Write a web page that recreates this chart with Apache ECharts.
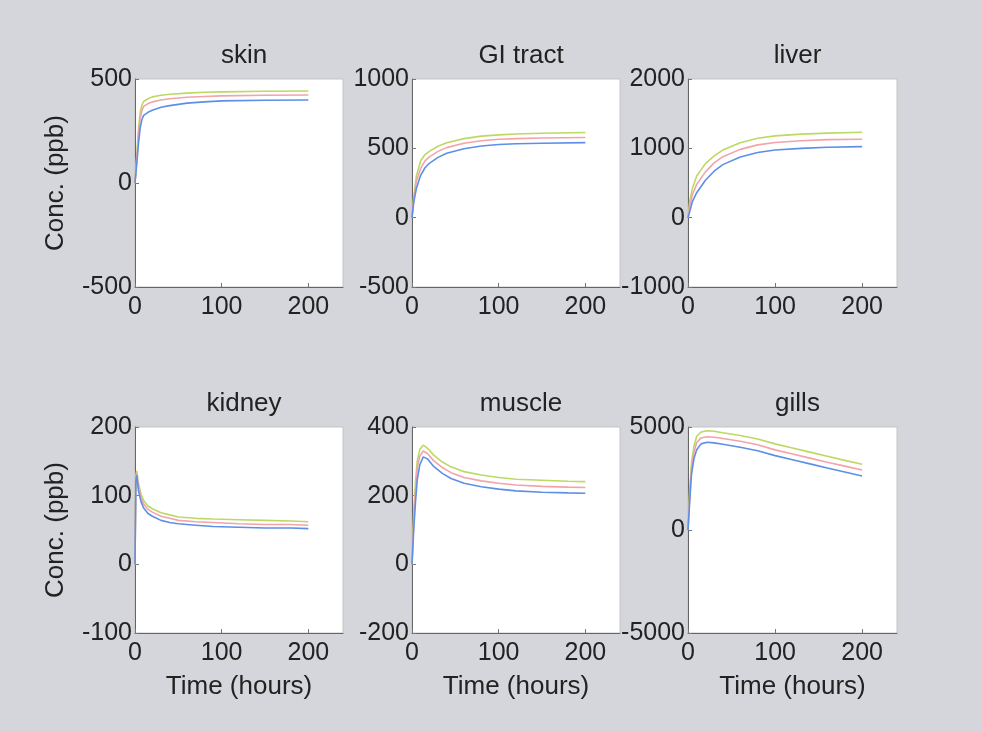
<!DOCTYPE html>
<html>
<head>
<meta charset="utf-8">
<script src="https://cdn.jsdelivr.net/npm/echarts@6/dist/echarts.min.js"></script>
<style>
html,body{margin:0;padding:0;background:#d5d6dc;}
#c{width:982px;height:731px;}
</style>
</head>
<body>
<div id="c"></div>
<script>
// ---- Data ----
const panelTitles = ['skin', 'GI tract', 'liver', 'kidney', 'muscle', 'gills'];
const seriesNames = ['high', 'mid', 'low'];

const skinT     = [0, 2, 4, 6, 8, 10, 15, 20, 30, 40, 60, 80, 100, 150, 200];
const skinGreen = [0, 130, 260, 340, 375, 392, 405, 414, 422, 427, 432, 436, 438, 441, 442];
const skinRed   = [0, 110, 230, 310, 350, 368, 382, 390, 399, 405, 412, 416, 419, 422, 423];
const skinBlue  = [0, 90, 190, 265, 305, 325, 340, 350, 364, 372, 384, 390, 395, 398, 399];

const giT     = [0, 2, 5, 10, 15, 20, 30, 40, 60, 80, 100, 120, 150, 200];
const giGreen = [0, 150, 300, 410, 455, 478, 515, 540, 570, 588, 597, 603, 609, 614];
const giRed   = [0, 130, 260, 355, 410, 438, 478, 505, 537, 555, 565, 570, 574, 578];
const giBlue  = [0, 110, 210, 305, 360, 392, 435, 465, 497, 517, 528, 533, 537, 541];

const liverT     = [0, 2, 5, 10, 20, 30, 40, 60, 80, 100, 130, 160, 200];
const liverGreen = [0, 240, 420, 600, 780, 890, 975, 1080, 1145, 1180, 1205, 1220, 1232];
const liverRed   = [0, 170, 330, 480, 660, 790, 880, 985, 1050, 1085, 1110, 1125, 1130];
const liverBlue  = [0, 90, 230, 360, 540, 670, 765, 875, 940, 975, 1000, 1015, 1025];

const kidneyT     = [0, 1, 2, 4, 7, 10, 15, 20, 30, 40, 50, 70, 90, 120, 150, 180, 200];
const kidneyGreen = [0, 130, 136, 118, 102, 93, 85, 81, 75, 72, 69, 67, 66, 65, 64, 63, 62];
const kidneyRed   = [0, 127, 133, 113, 97, 88, 80, 76, 70, 67, 64, 62, 61, 59, 58, 58, 57];
const kidneyBlue  = [0, 122, 130, 107, 91, 82, 74, 70, 64, 61, 59, 57, 55, 54, 53, 53, 52];

const muscleT     = [0, 2, 4, 6, 9, 13, 18, 25, 35, 45, 60, 80, 100, 120, 150, 180, 200];
const muscleGreen = [0, 150, 240, 300, 335, 347, 338, 318, 298, 284, 270, 260, 253, 248, 245, 242, 241];
const muscleRed   = [0, 130, 215, 280, 315, 330, 322, 302, 282, 267, 253, 243, 236, 231, 227, 225, 224];
const muscleBlue  = [0, 100, 180, 245, 290, 313, 307, 285, 265, 250, 236, 226, 219, 214, 210, 208, 207];

const gillsT     = [0, 2, 4, 7, 10, 15, 22, 30, 40, 60, 80, 100, 120, 140, 160, 180, 200];
const gillsGreen = [0, 2000, 3300, 4100, 4550, 4760, 4820, 4790, 4720, 4590, 4420, 4180, 3980, 3780, 3580, 3380, 3190];
const gillsRed   = [0, 1700, 3000, 3800, 4250, 4470, 4530, 4500, 4440, 4310, 4140, 3890, 3690, 3490, 3290, 3100, 2910];
const gillsBlue  = [0, 1400, 2700, 3500, 3900, 4180, 4260, 4230, 4160, 4020, 3850, 3610, 3410, 3210, 3010, 2820, 2620];

const xTicks = [0, 100, 200];
const yRanges = [[-500, 500, 500], [-500, 1000, 500], [-1000, 2000, 1000],
                 [-100, 200, 100], [-200, 400, 200], [-5000, 5000, 5000]];

// ---- Build chart ----
const panels = [
  [skinT, skinGreen, skinRed, skinBlue],
  [giT, giGreen, giRed, giBlue],
  [liverT, liverGreen, liverRed, liverBlue],
  [kidneyT, kidneyGreen, kidneyRed, kidneyBlue],
  [muscleT, muscleGreen, muscleRed, muscleBlue],
  [gillsT, gillsGreen, gillsRed, gillsBlue]
];
const colors = ['#bcd964', '#f3a3aa', '#5d8fe6'];
const lefts = [135, 412, 688];
const widths = [208, 208, 209];
const tops = [79, 427];
const heights = [208, 206];
const FONT = '"Liberation Sans", Arial, sans-serif';
const FS = 25;
const FN = 26;

const grid = [], xAxis = [], yAxis = [], series = [], title = [];
for (let i = 0; i < 6; i++) {
  const col = i % 3, row = Math.floor(i / 3);
  grid.push({left: lefts[col], top: tops[row], width: widths[col], height: heights[row],
    show: true, backgroundColor: '#ffffff', borderColor: '#c4c4c4', borderWidth: 1, containLabel: false});
  title.push({text: panelTitles[i], left: lefts[col] + widths[col] / 2, top: tops[row] - 41,
    textAlign: 'center',
    textStyle: {fontFamily: FONT, fontSize: FN, fontWeight: 'normal', color: '#222'}});
  xAxis.push({type: 'value', gridIndex: i, min: 0, max: 240, interval: 100,
    name: row === 1 ? 'Time (hours)' : '', nameLocation: 'middle', nameGap: 41,
    nameTextStyle: {fontFamily: FONT, fontSize: FN, color: '#222'},
    axisLine: {show: true, onZero: false, lineStyle: {color: '#666', width: 1}},
    axisTick: {show: true, inside: true, length: 4, lineStyle: {color: '#777'}},
    splitLine: {show: false},
    axisLabel: {fontFamily: FONT, fontSize: FS, color: '#222', margin: 8,
      showMaxLabel: false,
      formatter: v => (xTicks.indexOf(v) >= 0 ? String(v) : '')}});
  const yr = yRanges[i];
  yAxis.push({type: 'value', gridIndex: i, min: yr[0], max: yr[1], interval: yr[2],
    name: col === 0 ? 'Conc. (ppb)' : '', nameLocation: 'middle', nameRotate: 90, nameGap: 66,
    nameTextStyle: {fontFamily: FONT, fontSize: FN, color: '#222'},
    axisLine: {show: true, onZero: false, lineStyle: {color: '#666', width: 1}},
    axisTick: {show: true, inside: true, length: 4, lineStyle: {color: '#777'}},
    splitLine: {show: false},
    axisLabel: {fontFamily: FONT, fontSize: FS, color: '#222', margin: 3,
      formatter: v => String(v)}});
  const p = panels[i];
  for (let s = 0; s < 3; s++) {
    series.push({type: 'line', name: seriesNames[s], xAxisIndex: i, yAxisIndex: i,
      showSymbol: false, symbol: 'none', animation: false,
      lineStyle: {color: colors[s], width: 1.6},
      data: p[0].map((t, k) => [t, p[s + 1][k]])});
  }
}

const chart = echarts.init(document.getElementById('c'), null, {renderer: 'canvas'});
chart.setOption({backgroundColor: '#d5d6dc', animation: false, title, grid, xAxis, yAxis, series});
</script>
</body>
</html>
